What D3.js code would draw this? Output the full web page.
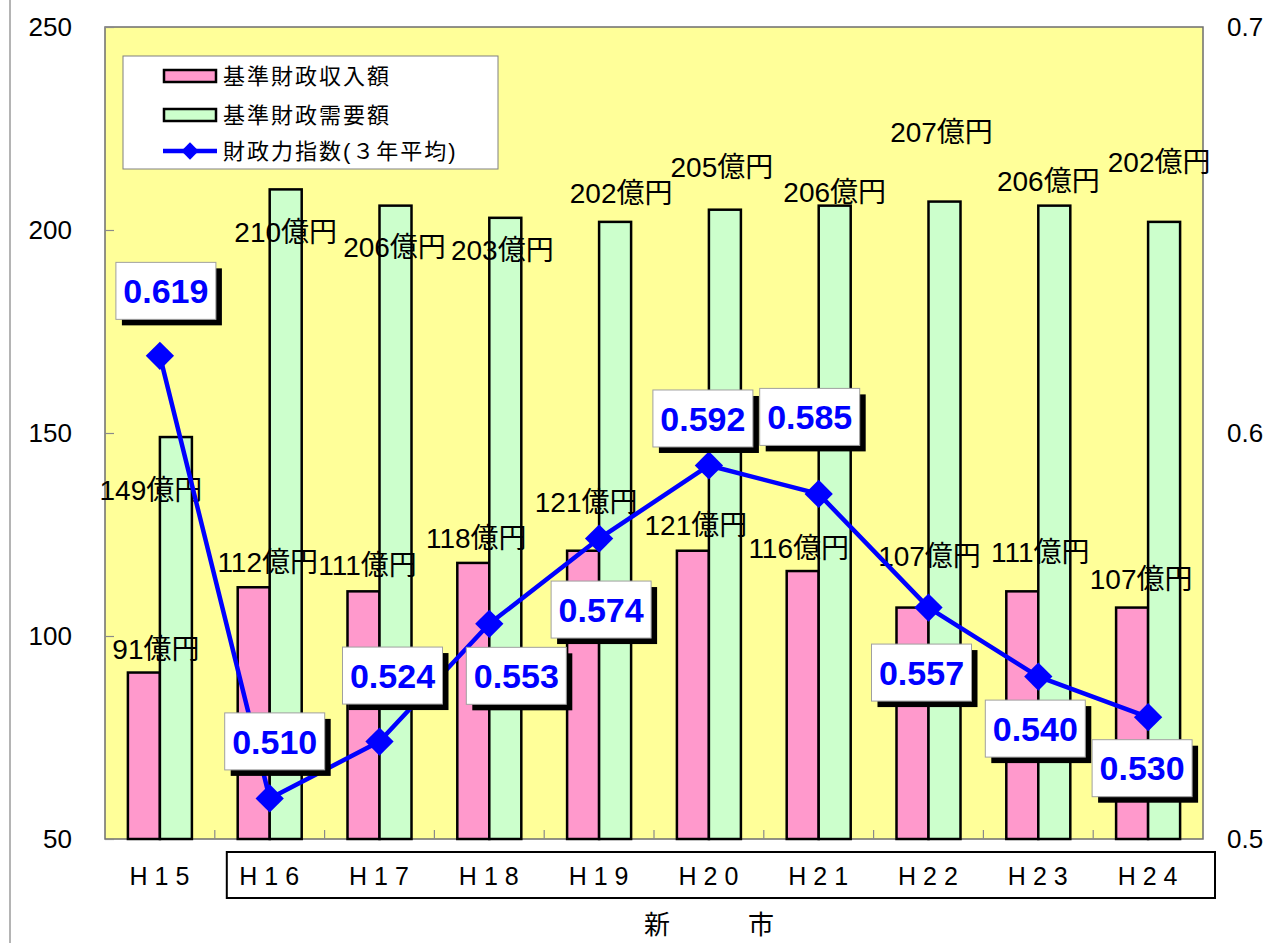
<!DOCTYPE html>
<html>
<head>
<meta charset="utf-8">
<script src="https://cdn.jsdelivr.net/npm/d3@7"></script>
<style>
  body { margin: 0; background: #fff; }
  svg text { font-family: "Liberation Sans", Arial, "Noto Sans CJK JP", sans-serif; }
</style>
</head>
<body>
<div id="chart"></div>
<script>
// データ
const years = ["H15", "H16", "H17", "H18", "H19", "H20", "H21", "H22", "H23", "H24"];
const revenue = [91, 112, 111, 118, 121, 121, 116, 107, 111, 107];      // 基準財政収入額 (億円)
const demand = [149, 210, 206, 203, 202, 205, 206, 207, 206, 202];      // 基準財政需要額 (億円)
const fiscalIndex = [0.619, 0.510, 0.524, 0.553, 0.574, 0.592, 0.585, 0.557, 0.540, 0.530];
const leftTicks = [50, 100, 150, 200, 250];
const rightTicks = [0.5, 0.6, 0.7];
const seriesNames = ["基準財政収入額", "基準財政需要額", "財政力指数(３年平均)"];
const groupLabel = "新　　　市";

// ラベルの位置調整 (元の図で手動で動かされている分)
const revenueNudge = [[-4, -23], [-2, -25], [-12, -26], [-13, -25], [-13, -49], [-13, -26], [-20, -23], [1, -51], [2, -39], [-7, -28]];
const demandNudge = [[-9, 53], [16, 43], [15, 42], [13, 32], [22, -29], [13, -43], [16, -13], [13, -69], [10, -24], [11, -60]];
const indexNudge = [[6, -65], [5, -57], [13, -66], [27, 52], [2, 71], [-6, -47], [-9, -77], [-7, 65], [-3, 52], [-6, 51]];

const W = 1268, H = 943;
const plot = { left: 105, right: 1203, top: 27, bottom: 839 };

const rows = years.map((y, i) => ({
    year: y, revenue: revenue[i], demand: demand[i], idx: fiscalIndex[i], i: i
}));

const svg = d3.select("#chart").append("svg")
    .attr("width", W)
    .attr("height", H);

// 左の枠線
svg.append("line")
    .attr("x1", 10).attr("x2", 10).attr("y1", 0).attr("y2", H)
    .attr("stroke", "#b4b4b4").attr("stroke-width", 2);

const x = d3.scaleBand()
    .domain(years)
    .range([plot.left, plot.right])
    .padding(0);

const y = d3.scaleLinear()
    .domain([50, 250])
    .range([plot.bottom, plot.top]);

const y2 = d3.scaleLinear()
    .domain([0.5, 0.7])
    .range([plot.bottom, plot.top]);

const barW = 32;
const cx = d => x(d.year) + x.bandwidth() / 2;

// プロットエリア
svg.append("rect")
    .attr("x", plot.left).attr("y", plot.top)
    .attr("width", plot.right - plot.left).attr("height", plot.bottom - plot.top)
    .attr("fill", "#FFFF99")
    .attr("stroke", "#6e6e6e")
    .attr("stroke-width", 1.5);

// 目盛り (内向き)
svg.append("g")
    .selectAll("line")
    .data(years.slice(1))
    .enter()
    .append("line")
    .attr("x1", d => x(d)).attr("x2", d => x(d))
    .attr("y1", plot.bottom).attr("y2", plot.bottom - 9)
    .attr("stroke", "#8a8a8a").attr("stroke-width", 1.2);

// 棒グラフ
svg.append("g")
    .selectAll("rect")
    .data(rows)
    .enter()
    .append("rect")
    .attr("x", d => cx(d) - barW)
    .attr("y", d => y(d.revenue))
    .attr("width", barW)
    .attr("height", d => y(50) - y(d.revenue))
    .attr("fill", "#FF99CC")
    .attr("stroke", "#000")
    .attr("stroke-width", 2.5);

svg.append("g")
    .selectAll("rect")
    .data(rows)
    .enter()
    .append("rect")
    .attr("x", d => cx(d))
    .attr("y", d => y(d.demand))
    .attr("width", barW)
    .attr("height", d => y(50) - y(d.demand))
    .attr("fill", "#CCFFCC")
    .attr("stroke", "#000")
    .attr("stroke-width", 2.5);

// 左軸
const leftAxis = svg.append("g")
    .attr("transform", `translate(${plot.left},0)`)
    .call(d3.axisLeft(y).tickValues(leftTicks).tickSize(-9).tickPadding(33));
leftAxis.select(".domain").remove();
leftAxis.selectAll("line").attr("stroke", "#8a8a8a").attr("stroke-width", 1.2);
leftAxis.selectAll("text")
    .style("font-size", "26px")
    .attr("fill", "#000");

// 右軸
const rightAxis = svg.append("g")
    .attr("transform", `translate(${plot.right},0)`)
    .call(d3.axisRight(y2).tickValues(rightTicks).tickSize(0).tickPadding(24).tickFormat(d3.format(".1f")));
rightAxis.select(".domain").remove();
rightAxis.selectAll("text")
    .style("font-size", "26px")
    .attr("fill", "#000");

// 横軸ラベル
const bottomAxis = svg.append("g")
    .attr("transform", `translate(0,${plot.bottom})`)
    .call(d3.axisBottom(x).tickSize(0).tickPadding(28));
bottomAxis.select(".domain").remove();
bottomAxis.selectAll("text")
    .style("font-size", "25px")
    .style("letter-spacing", "7px")
    .attr("dx", "3px")
    .attr("fill", "#000");

// 新市の枠
svg.append("rect")
    .attr("x", x("H16") + 12)
    .attr("y", 852)
    .attr("width", 1215 - (x("H16") + 12))
    .attr("height", 46)
    .attr("fill", "none")
    .attr("stroke", "#000")
    .attr("stroke-width", 2);

svg.append("text")
    .attr("x", (x("H16") + plot.right) / 2)
    .attr("y", 925)
    .attr("dy", "0.35em")
    .attr("text-anchor", "middle")
    .style("font-size", "26px")
    .text(groupLabel);

// データラベル (億円)
svg.append("g")
    .selectAll("text")
    .data(rows)
    .enter()
    .append("text")
    .attr("x", d => cx(d) + revenueNudge[d.i][0])
    .attr("y", d => y(d.revenue) + revenueNudge[d.i][1])
    .attr("dy", "0.35em")
    .attr("text-anchor", "middle")
    .style("font-size", "28px")
    .text(d => d.revenue + "億円");

svg.append("g")
    .selectAll("text")
    .data(rows)
    .enter()
    .append("text")
    .attr("x", d => cx(d) + demandNudge[d.i][0])
    .attr("y", d => y(d.demand) + demandNudge[d.i][1])
    .attr("dy", "0.35em")
    .attr("text-anchor", "middle")
    .style("font-size", "28px")
    .text(d => d.demand + "億円");

// 財政力指数 折れ線
const line = d3.line()
    .x(d => cx(d))
    .y(d => y2(d.idx));

svg.append("path")
    .datum(rows)
    .attr("d", line)
    .attr("fill", "none")
    .attr("stroke", "#0000FF")
    .attr("stroke-width", 4.5)
    .attr("stroke-linejoin", "round");

const diamond = d3.symbol().type(d3.symbolSquare).size(400);
svg.append("g")
    .selectAll("path")
    .data(rows)
    .enter()
    .append("path")
    .attr("d", diamond)
    .attr("transform", d => `translate(${cx(d)},${y2(d.idx)}) rotate(45)`)
    .attr("fill", "#0000FF");

// 指数ラベル (影付きの箱)
const boxW = 100, boxH = 57;
const boxes = svg.append("g")
    .selectAll("g")
    .data(rows)
    .enter()
    .append("g")
    .attr("transform", d => `translate(${cx(d) + indexNudge[d.i][0]},${y2(d.idx) + indexNudge[d.i][1]})`);

boxes.append("rect")
    .attr("x", -boxW / 2 + 6).attr("y", -boxH / 2 + 6)
    .attr("width", boxW).attr("height", boxH)
    .attr("fill", "#000");

boxes.append("rect")
    .attr("x", -boxW / 2).attr("y", -boxH / 2)
    .attr("width", boxW).attr("height", boxH)
    .attr("fill", "#fff")
    .attr("stroke", "#a0a0a0")
    .attr("stroke-width", 1);

boxes.append("text")
    .attr("text-anchor", "middle")
    .attr("dy", "0.36em")
    .attr("fill", "#0000FF")
    .style("font-size", "34px")
    .style("font-weight", "bold")
    .text(d => d3.format(".3f")(d.idx));

// 凡例
const legend = svg.append("g");
legend.append("rect")
    .attr("x", 123).attr("y", 56)
    .attr("width", 375).attr("height", 113)
    .attr("fill", "#fff")
    .attr("stroke", "#808080")
    .attr("stroke-width", 1);

const legendY = [76, 115, 151];
const legendColors = ["#FF99CC", "#CCFFCC"];

legend.selectAll("rect.sw")
    .data(legendColors)
    .enter()
    .append("rect")
    .attr("class", "sw")
    .attr("x", 164)
    .attr("y", (d, i) => legendY[i] - 6)
    .attr("width", 52)
    .attr("height", 12)
    .attr("fill", d => d)
    .attr("stroke", "#000")
    .attr("stroke-width", 2.5);

legend.append("line")
    .attr("x1", 163).attr("x2", 217)
    .attr("y1", legendY[2]).attr("y2", legendY[2])
    .attr("stroke", "#0000FF")
    .attr("stroke-width", 4.5);

legend.append("path")
    .attr("d", d3.symbol().type(d3.symbolSquare).size(150))
    .attr("transform", `translate(190,${legendY[2]}) rotate(45)`)
    .attr("fill", "#0000FF");

legend.selectAll("text")
    .data(seriesNames)
    .enter()
    .append("text")
    .attr("x", 223)
    .attr("y", (d, i) => legendY[i])
    .attr("dy", "0.36em")
    .style("font-size", "22px")
    .style("letter-spacing", "2px")
    .text(d => d);
</script>
</body>
</html>
